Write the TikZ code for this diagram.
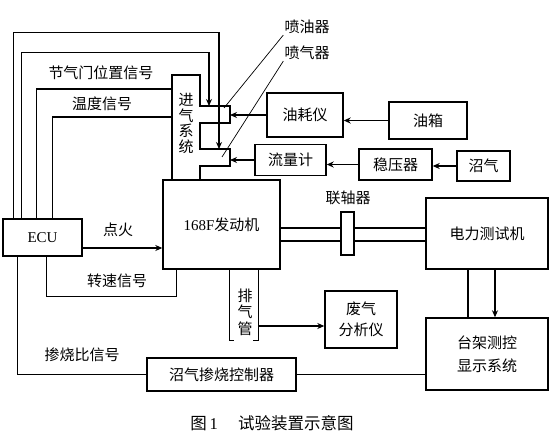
\documentclass[tikz,border=0pt]{standalone}
\usepackage{fontspec}
\setmainfont{Liberation Serif}
\newfontfamily\cjk{Noto Sans CJK SC}
\usetikzlibrary{arrows.meta}

\begin{document}
\begin{tikzpicture}[x=1pt, y=-1pt,
    every node/.style={font=\cjk\fontsize{15}{15.7}\selectfont},
    box/.style={draw=black, line width=1.4pt, inner sep=0pt, align=center},
    edge/.style={line width=1.4pt, -},
    arrow/.style={line width=1.4pt, -{Stealth[length=7pt,width=6pt]}},
    leader/.style={line width=0.7pt},
    tag/.style={inner sep=1pt, align=center}
]
    \useasboundingbox (0,0) rectangle (560,436);
    % blocks
    \node[box, minimum width=79, minimum height=37] (ecu) at (42.5,237.5) {\rmfamily ECU};
    \node[box, minimum width=117, minimum height=89] (engine) at (221.5,224.5) {{\rmfamily 168F}发动机};
    \node[box, minimum width=76, minimum height=44] (youhao) at (305,115) {油耗仪};
    \node[box, minimum width=78, minimum height=37] (youxiang) at (428,120.5) {油箱};
    \node[box, minimum width=71, minimum height=31] (liuliang) at (290.5,160) {流量计};
    \node[box, minimum width=73, minimum height=31] (wenya) at (395.5,164.5) {稳压器};
    \node[box, minimum width=53, minimum height=30] (zhaoqi) at (483.5,166) {沼气};
    \node[box, minimum width=122, minimum height=71] (dianli) at (487,233.5) {电力测试机};
    \node[box, minimum width=122, minimum height=72] (taijia) at (487,354) {台架测控\\[7pt]显示系统};
    \node[box, minimum width=72, minimum height=57] (feiqi) at (361,319.5) {废气\\[5pt]分析仪};
    \node[box, minimum width=149, minimum height=33] (kongzhi) at (221.5,374.5) {沼气掺烧控制器};
    % intake with the two injectors
    \draw[edge] (172,180) -- (172,75) -- (200,75) -- (200,106) -- (230,106) -- (230,123)
        -- (200,123) -- (200,149) -- (230,149) -- (230,166) -- (200,166) -- (200,180);
    \node[tag] (jinqi) at (186,123.5) {进\\气\\系\\统};
    \coordinate (pyq) at (230,114.5);
    \coordinate (pqq) at (230,160);
    \coordinate (pytop) at (209,106);
    \coordinate (pqtop) at (219,149);
    \coordinate (jqa) at (172,89);
    \coordinate (jqb) at (172,117);
    \node[tag] (pyl) at (307,27) {喷油器};
    \node[tag] (pql) at (307,53) {喷气器};
    \draw[leader] (pyl.south west) -- (224,108);
    \draw[leader] (pql.south west) -- (222,157);
    % fuel and gas supply
    \draw[arrow] (youxiang.west) -- (youxiang.west -| youhao.east);
    \draw[arrow] (youhao.west) -- (youhao.west -| pyq);
    \draw[arrow] (zhaoqi.west) -- (zhaoqi.west -| wenya.east);
    \draw[arrow] (wenya.west) -- (wenya.west -| liuliang.east);
    \draw[arrow] (liuliang.west) -- (liuliang.west -| pqq);
    % ECU signals
    \draw[arrow] ([xshift=11]ecu.north west) -- ++(0,-186) -| (pqtop);
    \draw[arrow] ([xshift=19]ecu.north west) -- ++(0,-166) -| (pytop);
    \draw[edge] ([xshift=34]ecu.north west) |- (jqa);
    \draw[edge] ([xshift=50]ecu.north west) |- (jqb);
    \node[tag] (jqmw) at (101,73) {节气门位置信号};
    \node[tag] (wdxh) at (102,104) {温度信号};
    \draw[arrow] ([yshift=-10.5]ecu.east) -- ([yshift=-10.5]ecu.east -| engine.west);
    \node[tag] (dh) at (118,230) {点火};
    \draw[edge] ([xshift=14]engine.south west) -- ++(0,27) -| ([xshift=44]ecu.south west);
    \node[tag] (zsxh) at (117,281) {转速信号};
    \draw[edge] ([xshift=15]ecu.south west) |- (kongzhi.west);
    \node[tag] (csb) at (82,355) {掺烧比信号};
    % exhaust pipe
    \draw[edge] ([xshift=67]engine.south west) -- ++(0,71) -- ++(5,0);
    \draw[edge] ([xshift=96]engine.south west) -- ++(0,71) -- ++(-5,0);
    \node[tag, font=\cjk\fontsize{15}{16.5}\selectfont] (pqg) at (245,312) {排\\气\\管};
    \coordinate (pqgo) at (259,326);
    \draw[arrow] (pqgo) -- (pqgo -| feiqi.west);
    % shaft and coupling
    \draw[edge] ([yshift=-3.5]engine.east) -- ([yshift=-3.5]engine.east -| dianli.west);
    \draw[edge] ([yshift=-16.5]engine.east) -- ([yshift=-16.5]engine.east -| dianli.west);
    \node[box, fill=white, minimum width=13, minimum height=43] (lzq) at (347.5,233.5) {};
    \node[tag] (lzql) at (348,198) {联轴器};
    % test bench
    \draw[edge] ([xshift=-19]dianli.south) -- ([xshift=-19]taijia.north);
    \draw[arrow] ([xshift=8]dianli.south) -- ([xshift=8]taijia.north);
    \draw[edge] (kongzhi.east) -- (kongzhi.east -| taijia.west);
    % caption
    \node[tag, font=\cjk\fontsize{16.5}{18}\selectfont] (cap) at (272,423) {图\,{\rmfamily 1}\quad\ 试验装置示意图};
\end{tikzpicture}
\end{document}
